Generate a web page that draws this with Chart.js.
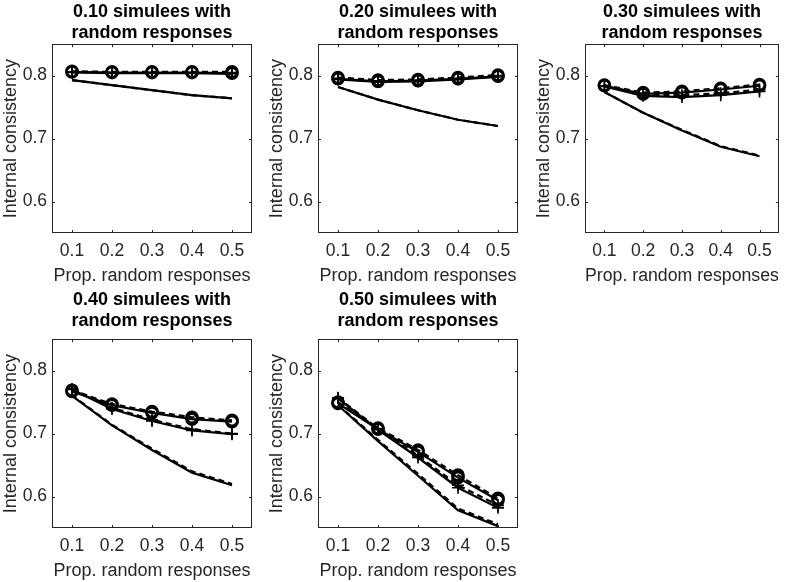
<!DOCTYPE html>
<html><head><meta charset="utf-8">
<script src="https://cdn.jsdelivr.net/npm/chart.js@4.4.0/dist/chart.umd.min.js"></script>
<style>
html,body{margin:0;padding:0;background:#fff;overflow:hidden;width:787px;height:582px;position:relative;}
canvas{position:absolute;}
</style></head><body>
<canvas id="c1" width="262" height="291" style="left:0px;top:0px"></canvas>
<canvas id="c2" width="262" height="291" style="left:266px;top:0px"></canvas>
<canvas id="c3" width="254" height="291" style="left:533px;top:0px"></canvas>
<canvas id="c4" width="262" height="298" style="left:0px;top:288px"></canvas>
<canvas id="c5" width="262" height="298" style="left:266px;top:288px"></canvas>
<script>
// ---- data ----
const xValues = [0.1, 0.2, 0.3, 0.4, 0.5];
const xTicks = [0.1, 0.2, 0.3, 0.4, 0.5];
const yTicks = [0.6, 0.7, 0.8];
const panelTitles = ["0.10 simulees with", "0.20 simulees with", "0.30 simulees with", "0.40 simulees with", "0.50 simulees with"];
const titleLine2 = "random responses";
const xTitle = "Prop. random responses";
const yTitle = "Internal consistency";

// panel 1 (0.10)
const p1CircSolid = [0.806, 0.805, 0.805, 0.805, 0.804];
const p1CircDash  = [0.807, 0.806, 0.806, 0.806, 0.806];
const p1PlusSolid = [0.805, 0.804, 0.804, 0.804, 0.803];
const p1PlusDash  = [0.806, 0.805, 0.805, 0.805, 0.805];
const p1LowSolid  = [0.793, 0.785, 0.777, 0.769, 0.764];
const p1LowDash   = [0.793, 0.785, 0.777, 0.769, 0.764];
// panel 2 (0.20)
const p2CircSolid = [0.795, 0.791, 0.792, 0.795, 0.799];
const p2CircDash  = [0.797, 0.793, 0.794, 0.797, 0.801];
const p2PlusSolid = [0.794, 0.790, 0.791, 0.794, 0.798];
const p2PlusDash  = [0.796, 0.792, 0.793, 0.796, 0.800];
const p2LowSolid  = [0.782, 0.762, 0.745, 0.730, 0.720];
const p2LowDash   = [0.782, 0.762, 0.745, 0.730, 0.720];
// panel 3 (0.30)
const p3CircSolid = [0.784, 0.771, 0.773, 0.778, 0.784];
const p3CircDash  = [0.785, 0.773, 0.775, 0.780, 0.786];
const p3PlusSolid = [0.783, 0.768, 0.766, 0.769, 0.775];
const p3PlusDash  = [0.784, 0.770, 0.769, 0.772, 0.778];
const p3LowSolid  = [0.774, 0.741, 0.713, 0.687, 0.672];
const p3LowDash   = [0.774, 0.741, 0.714, 0.688, 0.673];
// panel 4 (0.40)
const p4CircSolid = [0.767, 0.745, 0.733, 0.723, 0.719];
const p4CircDash  = [0.769, 0.747, 0.735, 0.726, 0.721];
const p4PlusSolid = [0.770, 0.739, 0.720, 0.705, 0.699];
const p4PlusDash  = [0.771, 0.741, 0.722, 0.707, 0.700];
const p4LowSolid  = [0.760, 0.713, 0.674, 0.638, 0.618];
const p4LowDash   = [0.761, 0.714, 0.676, 0.640, 0.620];
// panel 5 (0.50)
const p5CircSolid = [0.748, 0.707, 0.671, 0.630, 0.594];
const p5CircDash  = [0.750, 0.709, 0.674, 0.634, 0.597];
const p5PlusSolid = [0.756, 0.706, 0.662, 0.614, 0.582];
const p5PlusDash  = [0.757, 0.708, 0.665, 0.618, 0.586];
const p5LowSolid  = [0.745, 0.688, 0.633, 0.578, 0.553];
const p5LowDash   = [0.746, 0.690, 0.636, 0.581, 0.556];

// ---- rendering ----
const INK = '#000000';
const AXIS = '#262626';
const FONT = "'Liberation Sans', Arial, Helvetica, sans-serif";

function pts(arr) { return xValues.map((x, i) => ({x: x, y: arr[i]})); }

function ds(arr, marker, dashed) {
  return {
    data: pts(arr),
    borderColor: INK,
    backgroundColor: 'rgba(0,0,0,0)',
    borderWidth: 2.2,
    borderDash: dashed ? [6, 4] : [],
    pointStyle: marker || 'circle',
    pointRadius: marker ? (marker === 'cross' ? 6 : 5.5) : 0,
    pointBorderWidth: marker === 'cross' ? 1.6 : 2.6,
    pointBorderColor: INK,
    pointBackgroundColor: 'rgba(0,0,0,0)',
    tension: 0,
    fill: false
  };
}

const framePlugin = {
  id: 'frame',
  afterDraw(chart) {
    const {ctx, chartArea: a, scales} = chart;
    const x = scales.x, y = scales.y;
    ctx.save();
    ctx.strokeStyle = AXIS;
    ctx.lineWidth = 1;
    ctx.setLineDash([]);
    ctx.strokeRect(Math.round(a.left) + 0.5, Math.round(a.top) + 0.5,
                   Math.round(a.right - a.left) - 1, Math.round(a.bottom - a.top) - 1);
    ctx.beginPath();
    x.ticks.forEach(t => {
      const px = Math.round(x.getPixelForValue(t.value)) + 0.5;
      ctx.moveTo(px, a.bottom); ctx.lineTo(px, a.bottom - 3);
      ctx.moveTo(px, a.top); ctx.lineTo(px, a.top + 3);
    });
    y.ticks.forEach(t => {
      const py = Math.round(y.getPixelForValue(t.value)) + 0.5;
      ctx.moveTo(a.left, py); ctx.lineTo(a.left + 3, py);
      ctx.moveTo(a.right, py); ctx.lineTo(a.right - 3, py);
    });
    ctx.stroke();
    ctx.restore();
  }
};

function makePanel(id, title, series, padRight, titlePadTop, titlePadBottom) {
  const datasets = [
    ds(series[0], 'circle', false),
    ds(series[1], 'circle', true),
    ds(series[2], 'cross', false),
    ds(series[3], 'cross', true),
    ds(series[4], null, false),
    ds(series[5], null, true)
  ];
  new Chart(document.getElementById(id), {
    type: 'line',
    data: {datasets: datasets},
    options: {
      responsive: false,
      animation: false,
      devicePixelRatio: 1,
      layout: {padding: {left: 0, right: padRight, top: 0, bottom: 0}},
      plugins: {
        legend: {display: false},
        tooltip: {enabled: false},
        title: {
          display: true,
          fullSize: false,
          text: [title, titleLine2],
          color: INK,
          font: {family: FONT, size: 18, weight: 'bold', lineHeight: 1.2},
          padding: {top: titlePadTop, bottom: titlePadBottom}
        }
      },
      scales: {
        x: {
          type: 'linear',
          min: 0.05, max: 0.55,
          grid: {display: false, drawTicks: false},
          border: {display: false},
          afterBuildTicks: s => { s.ticks = xTicks.map(v => ({value: v})); },
          afterFit: s => { s.height = 58; },
          ticks: {
            color: AXIS, padding: 8,
            font: {family: FONT, size: 17.5},
            maxRotation: 0, autoSkip: false,
            callback: v => Number(v).toFixed(1)
          },
          title: {
            display: true, text: xTitle, color: AXIS,
            font: {family: FONT, size: 18},
            padding: {top: 0, bottom: 4}
          }
        },
        y: {
          type: 'linear',
          min: 0.55, max: 0.85,
          grid: {display: false, drawTicks: false},
          border: {display: false},
          afterBuildTicks: s => { s.ticks = yTicks.map(v => ({value: v})); },
          afterFit: s => { s.width = 52; },
          ticks: {
            color: AXIS, padding: 5,
            font: {family: FONT, size: 17.5},
            autoSkip: false,
            callback: v => Number(v).toFixed(1)
          },
          title: {
            display: true, text: yTitle, color: AXIS,
            font: {family: FONT, size: 18},
            padding: {top: 0, bottom: 0}
          }
        }
      }
    },
    plugins: [framePlugin]
  });
}

makePanel('c1', panelTitles[0], [p1CircSolid, p1CircDash, p1PlusSolid, p1PlusDash, p1LowSolid, p1LowDash], 10, 1, 0);
makePanel('c2', panelTitles[1], [p2CircSolid, p2CircDash, p2PlusSolid, p2PlusDash, p2LowSolid, p2LowDash], 10, 1, 0);
makePanel('c3', panelTitles[2], [p3CircSolid, p3CircDash, p3PlusSolid, p3PlusDash, p3LowSolid, p3LowDash], 2, 1, 0);
makePanel('c4', panelTitles[3], [p4CircSolid, p4CircDash, p4PlusSolid, p4PlusDash, p4LowSolid, p4LowDash], 10, 1, 7);
makePanel('c5', panelTitles[4], [p5CircSolid, p5CircDash, p5PlusSolid, p5PlusDash, p5LowSolid, p5LowDash], 10, 1, 7);
</script>
</body></html>
